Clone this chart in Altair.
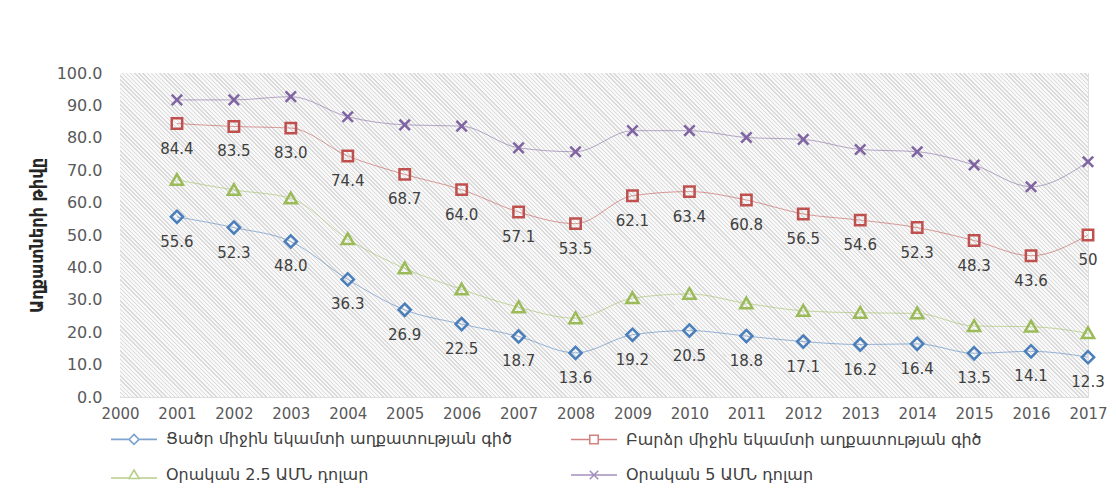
import altair as alt
import pandas as pd

years = list(range(2001, 2018))
low_line = [55.6, 52.3, 48.0, 36.3, 26.9, 22.5, 18.7, 13.6, 19.2, 20.5, 18.8, 17.1, 16.2, 16.4, 13.5, 14.1, 12.3]
high_line = [84.4, 83.5, 83.0, 74.4, 68.7, 64.0, 57.1, 53.5, 62.1, 63.4, 60.8, 56.5, 54.6, 52.3, 48.3, 43.6, 50.0]
usd_25 = [67.0, 63.9, 61.3, 48.7, 39.7, 33.2, 27.7, 24.3, 30.5, 31.8, 28.9, 26.6, 26.0, 25.8, 21.9, 21.7, 19.7]
usd_5 = [91.7, 91.7, 92.7, 86.5, 84.0, 83.6, 76.9, 75.7, 82.2, 82.2, 80.1, 79.5, 76.4, 75.7, 71.6, 64.9, 72.6]
low_labels = ["55.6", "52.3", "48.0", "36.3", "26.9", "22.5", "18.7", "13.6", "19.2", "20.5", "18.8", "17.1", "16.2", "16.4", "13.5", "14.1", "12.3"]
high_labels = ["84.4", "83.5", "83.0", "74.4", "68.7", "64.0", "57.1", "53.5", "62.1", "63.4", "60.8", "56.5", "54.6", "52.3", "48.3", "43.6", "50"]

series_names = [
    "Ցածր միջին եկամտի աղքատության գիծ",
    "Բարձր միջին եկամտի աղքատության գիծ",
    "Օրական 2.5 ԱՄՆ դոլար",
    "Օրական 5 ԱՄՆ դոլար",
]
colors = ["#4a7ebb", "#c0504d", "#9bbb59", "#8064a2"]
x_ticks = list(range(2000, 2018))
y_ticks = list(range(0, 101, 10))
y_title = "Աղքատների թիվը"

rows = []
for name, vals, labs in [
    (series_names[0], low_line, low_labels),
    (series_names[1], high_line, high_labels),
    (series_names[2], usd_25, [""] * len(years)),
    (series_names[3], usd_5, [""] * len(years)),
]:
    for yr, v, lab in zip(years, vals, labs):
        rows.append({"year": yr, "value": v, "series": name, "label": lab})
df = pd.DataFrame(rows)

W, H = 968, 324

x_enc = alt.X(
    "year:Q",
    scale=alt.Scale(domain=[2000, 2017], nice=False, zero=False),
    axis=alt.Axis(
        values=x_ticks, format="d", title=None, grid=False, domain=False, ticks=False,
        labelFontSize=15, labelColor="#595959", labelFont="DejaVu Sans",
        labelPadding=9, labelFlush=False, labelOverlap=False,
    ),
)
y_enc = alt.Y(
    "value:Q",
    scale=alt.Scale(domain=[0, 100], nice=False),
    axis=alt.Axis(
        values=y_ticks, format=".1f", title=y_title, grid=False, domain=False, ticks=False,
        labelFontSize=16, labelColor="#595959", labelFont="DejaVu Sans", labelPadding=18,
        titleFont="DejaVu Sans Condensed", titleFontSize=18, titleFontWeight="bold",
        titleColor="#262626", titlePadding=10,
    ),
)

color_scale = alt.Scale(domain=series_names, range=colors)
marker_paths = [
    "M0,-1L1,0L0,1L-1,0Z",
    "M-0.85,-0.85H0.85V0.85H-0.85Z",
    "M0,-0.95L1,0.8H-1Z",
    "M-0.85,-0.85L0.85,0.85M-0.85,0.85L0.85,-0.85",
]
legend_paths = [
    "M-4.6,0H-1M1,0H4.6M0,-1L1,0L0,1L-1,0Z",
    "M-4.6,0H-0.85M0.85,0H4.6M-0.85,-0.85H0.85V0.85H-0.85Z",
    "M-4.6,0.6H-1M1,0.6H4.6M0,-1L1,0.7H-1Z",
    "M-4.6,0H4.6M-0.85,-0.85L0.85,0.85M-0.85,0.85L0.85,-0.85",
]

# fine diagonal hatch for the plot background, as a striped gradient
periods = 310
stops = []
for k in range(periods):
    a = k / periods
    b = (k + 0.35) / periods
    c = (k + 1) / periods
    stops += [
        {"offset": a, "color": "#dadada"},
        {"offset": b, "color": "#dadada"},
        {"offset": b, "color": "#f8f8f8"},
        {"offset": c, "color": "#f8f8f8"},
    ]
ratio = H / W
ax = (1 + ratio) / (1 + ratio * ratio)
hatch = {"gradient": "linear", "x1": 0, "y1": 1, "x2": ax, "y2": 1 - ratio * ax, "stops": stops}

base = alt.Chart(df)

background = alt.Chart(pd.DataFrame({"k": [0]})).mark_rect(fill=hatch).encode(
    x=alt.value(0), x2=alt.value(W), y=alt.value(0), y2=alt.value(H)
)

lines = base.mark_line(interpolate="monotone", strokeWidth=1, opacity=0.55).encode(
    x=x_enc, y=y_enc,
    color=alt.Color("series:N", scale=color_scale, legend=None),
    detail="series:N",
)

points = base.mark_point(filled=False, size=150, strokeWidth=2.5, opacity=1).encode(
    x=x_enc, y=y_enc,
    color=alt.Color("series:N", scale=color_scale, legend=None),
    shape=alt.Shape("series:N", scale=alt.Scale(domain=series_names, range=marker_paths), legend=None),
)

labels = base.transform_filter("datum.label != ''").mark_text(
    dy=25, fontSize=15, font="DejaVu Sans", color="#404040", baseline="middle"
).encode(x=x_enc, y=y_enc, text="label:N")

legend_layer = base.transform_filter("false").mark_point(filled=False, strokeWidth=1.6).encode(
    x=x_enc, y=y_enc,
    color=alt.Color("series:N", scale=color_scale, legend=alt.Legend(title=None)),
    shape=alt.Shape(
        "series:N",
        scale=alt.Scale(domain=series_names, range=legend_paths),
        legend=alt.Legend(
            title=None, orient="none", legendX=-8, legendY=358, columns=2,
            direction="horizontal",
            columnPadding=55, rowPadding=18, symbolSize=100, symbolStrokeWidth=1.6,
            symbolOffset=14, labelOffset=24, labelFontSize=16, labelFont="DejaVu Sans",
            labelColor="#404040", labelLimit=500, symbolType="circle",
        ),
    ),
)

chart = alt.layer(background, lines, points, labels, legend_layer).resolve_scale(
    color="independent", shape="independent"
).properties(
    width=W, height=H,
    autosize=alt.AutoSizeParams(type="none"),
    padding={"left": 112, "top": 65, "right": 20, "bottom": 93},
).configure_view(
    stroke=None
).configure(background="white")

chart.save("out.html", embed_options={"renderer": "svg", "actions": False})
